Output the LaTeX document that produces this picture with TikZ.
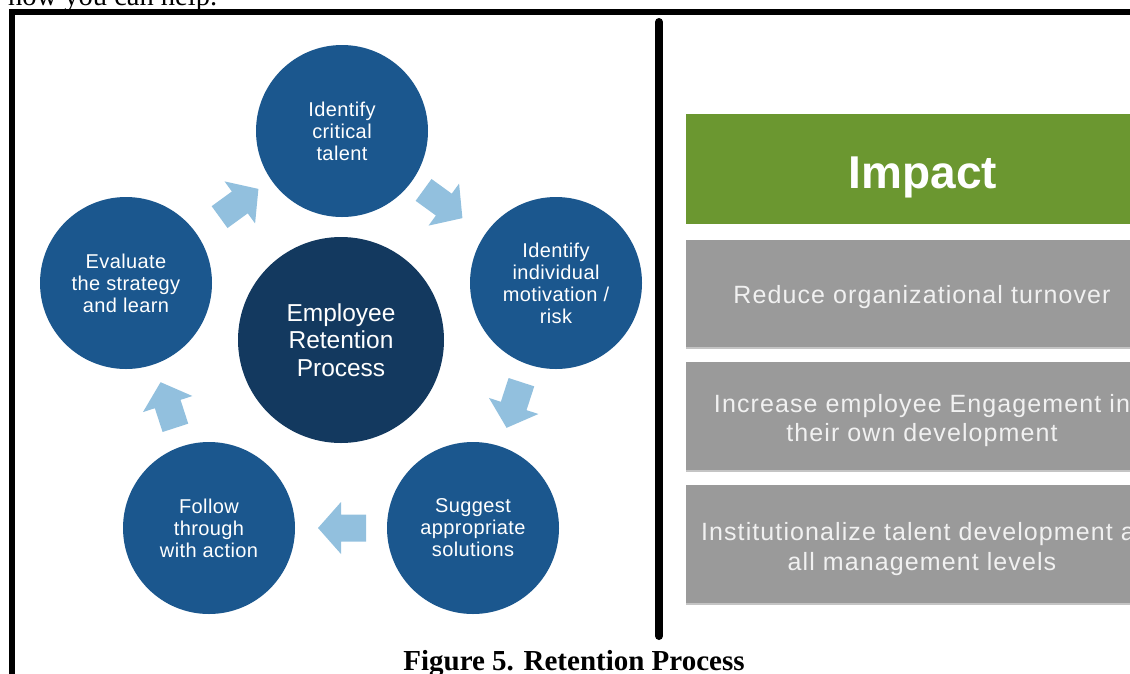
\documentclass[tikz,border=0pt]{standalone}
\usepackage{fontspec}
\setmainfont{Liberation Serif}
\newfontfamily\ringfont[LetterSpace=2]{Liberation Sans}
\newfontfamily\hubfont{Liberation Sans}
\newfontfamily\panelfont[LetterSpace=4.4]{Liberation Sans}
\newfontfamily\headfont{Liberation Sans}

\definecolor{ringblue}{RGB}{27,87,142}
\definecolor{hubblue}{RGB}{19,57,95}
\definecolor{arrowblue}{RGB}{146,192,222}
\definecolor{impactgreen}{RGB}{107,151,48}
\definecolor{panelgray}{RGB}{154,154,154}
\definecolor{panelshade}{RGB}{196,196,196}
\definecolor{paneltext}{RGB}{241,241,241}

\tikzset{
  ring/.style={circle, fill=ringblue, minimum size=172pt, inner sep=0pt,
    text=white, align=center, font=\ringfont\fontsize{20}{22}\selectfont},
  hub/.style={circle, fill=hubblue, minimum size=206pt, inner sep=0pt,
    text=white, align=center, font=\hubfont\fontsize{24.5}{27.5}\selectfont},
  panelbox/.style={rectangle, anchor=north west, inner sep=0pt,
    minimum width=480pt},
  panelline/.style={anchor=base, inner sep=0pt, text=paneltext,
    font=\panelfont\fontsize{25}{29}\selectfont},
  cyclearrow/.pic={
    \fill[arrowblue] (-24,-13.5) -- (1,-13.5) -- (1,-26) -- (24,0)
      -- (1,26) -- (1,13.5) -- (-24,13.5) -- cycle;
  },
}

\begin{document}
\begin{tikzpicture}[x=1pt,y=-1pt]
\useasboundingbox (0,0) rectangle (1130,673);
\clip (0,0) rectangle (1130,673);

% running text above the frame
\node[anchor=base west, inner sep=0pt, font=\fontsize{28.5}{30}\selectfont]
  (lead) at (8,5) {how you can help.};

% frame and divider
\draw[line width=5.5pt, line join=miter] (12,690) -- (12,12) -- (1150,12);
\draw[line width=8pt, line cap=round] (659,22) -- (659,636);

% retention cycle
\node[hub]  (hub)      at (341,340) {Employee\\Retention\\Process};
\node[ring] (talent)   at (342,131) {Identify\\critical\\talent};
\node[ring] (motive)   at (556,283) {Identify\\individual\\motivation /\\risk};
\node[ring] (suggest)  at (473,528) {Suggest\\appropriate\\solutions};
\node[ring] (follow)   at (209,528) {Follow\\through\\with action};
\node[ring] (evaluate) at (126,283) {Evaluate\\the strategy\\and learn};

\pic[rotate=36]   at (239,203) {cyclearrow};
\pic[rotate=-36]  at (443,204) {cyclearrow};
\pic[rotate=-108] at (514,405) {cyclearrow};
\pic[rotate=180]  at (342,528) {cyclearrow};
\pic[rotate=108]  at (168,405) {cyclearrow};

% impact panel
\node[panelbox, fill=impactgreen, minimum height=110pt] (impact) at (686,114) {};
\node[anchor=base, inner sep=0pt, text=white,
  font=\headfont\bfseries\fontsize{46}{50}\selectfont]
  (impacttitle) at (923,188) {Impact};

\node[panelbox, fill=panelshade, minimum height=107pt] at (686,242) {};
\node[panelbox, fill=panelgray, minimum height=107pt] (turnover) at (686,240) {};
\node[panelline] (turnovertext) at (922,303) {Reduce organizational turnover};

\node[panelbox, fill=panelshade, minimum height=108pt] at (686,364) {};
\node[panelbox, fill=panelgray, minimum height=108pt] (engage) at (686,362) {};
\node[panelline] (engage1) at (922,412) {Increase employee Engagement in};
\node[panelline] (engage2) at (922,441) {their own development};

\node[panelbox, fill=panelshade, minimum height=118pt] at (686,487) {};
\node[panelbox, fill=panelgray, minimum height=118pt] (levels) at (686,485) {};
\node[panelline] (levels1) at (922,540) {Institutionalize talent development at};
\node[panelline] (levels2) at (922,570) {all management levels};

% caption
\node[anchor=base, inner sep=0pt, font=\bfseries\fontsize{29}{32}\selectfont]
  (caption) at (574,670) {Figure 5. Retention Process};
\end{tikzpicture}
\end{document}
